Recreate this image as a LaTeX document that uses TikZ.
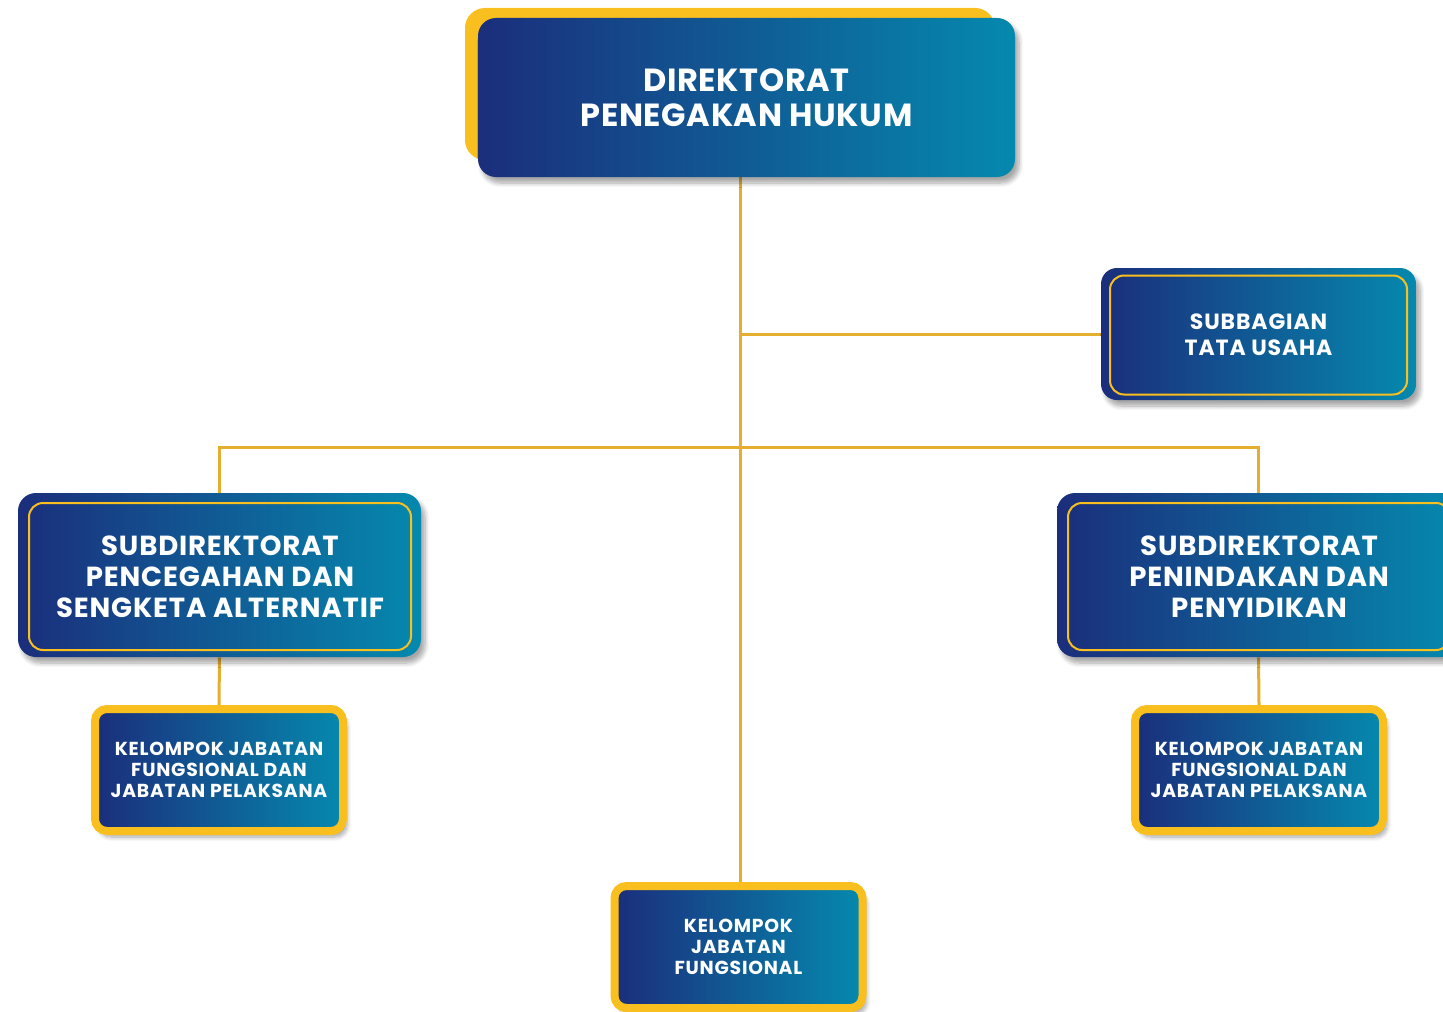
\documentclass[tikz,border=0pt]{standalone}
\usepackage{fontspec}
\setmainfont{Poppins}
\usetikzlibrary{shadows.blur,backgrounds}
\definecolor{navy}{HTML}{1B2E7C}
\definecolor{midblue}{HTML}{05528E}
\definecolor{myteal}{HTML}{0589AE}
\definecolor{gold}{HTML}{F9BF1E}
\definecolor{linegold}{HTML}{E6AE2E}
\begin{document}
\begin{tikzpicture}[x=0.5pt,y=-0.5pt,
  grad/.style={left color=navy, middle color=midblue, right color=myteal, inner sep=0pt},
  shad/.style={blur shadow={shadow xshift=2pt, shadow yshift=-3pt, shadow blur steps=8, shadow opacity=35}},
  bigbox/.style={grad, shad, rounded corners=9pt},
  frame/.style={draw=gold, line width=1pt, rounded corners=7pt, inner sep=0pt, text=white, align=center},
  kelbox/.style={grad, shad, draw=gold, line width=4pt, rounded corners=6pt, text=white, align=center,
     minimum width=124pt, minimum height=61pt, font=\bfseries\addfontfeatures{LetterSpace=4}\fontsize{9.4}{10.6}\selectfont},
  conn/.style={draw=linegold, line width=1.5pt}]
\useasboundingbox (0,0) rectangle (1443,1011);
\clip (0,0) rectangle (1443,1011);
% top
\node[fill=gold, rounded corners=10pt, minimum width=265pt, minimum height=76pt, inner sep=0pt] (topback) at (730,84) {};
\node[bigbox, minimum width=268.5pt, minimum height=79.5pt, text=white, align=center,
  font=\bfseries\addfontfeatures{LetterSpace=2}\fontsize{16}{17.5}\selectfont] (top) at (746.5,97.5) {DIREKTORAT\\PENEGAKAN HUKUM};
% subbagian
\node[bigbox, rounded corners=8pt, minimum width=157.5pt, minimum height=66pt] (sb) at (1258.5,334) {};
\node[frame, minimum width=148.5pt, minimum height=59.5pt, font=\bfseries\addfontfeatures{LetterSpace=4}\fontsize{11}{12.8}\selectfont] (sbin) at (1258.5,335) {SUBBAGIAN\\TATA USAHA};
% subdirektorat left
\node[bigbox, minimum width=201.5pt, minimum height=82pt] (sdl) at (219.5,575) {};
\node[frame, minimum width=191pt, minimum height=73.5pt, font=\bfseries\addfontfeatures{LetterSpace=3}\fontsize{13.8}{15.5}\selectfont] (sdlin) at (220,576.5) {SUBDIREKTORAT\\PENCEGAHAN DAN\\SENGKETA ALTERNATIF};
% subdirektorat right
\node[bigbox, minimum width=201.5pt, minimum height=82pt] (sdr) at (1258.5,575) {};
\node[frame, minimum width=191pt, minimum height=73.5pt, font=\bfseries\addfontfeatures{LetterSpace=3}\fontsize{13.8}{15.5}\selectfont] (sdrin) at (1259,576.5) {SUBDIREKTORAT\\PENINDAKAN DAN\\PENYIDIKAN};
% kelompok boxes
\node[kelbox] (kl) at (219,770) {KELOMPOK JABATAN\\FUNGSIONAL DAN\\JABATAN PELAKSANA};
\node[kelbox] (kr) at (1259,770) {KELOMPOK JABATAN\\FUNGSIONAL DAN\\JABATAN PELAKSANA};
\node[kelbox] (kb) at (738.5,947) {KELOMPOK\\JABATAN\\FUNGSIONAL};
% connectors
\coordinate (hub) at (740,447);
\coordinate (tu) at (740,334);
\begin{scope}[on background layer]
\draw[conn] (top.south -| hub) -- (kb.north -| hub);
\draw[conn] (tu) -- (sb.west);
\draw[conn] (sdl.north) |- (hub) -| (sdr.north);
\draw[conn] (sdl.south) -- (kl.north);
\draw[conn] (sdr.south) -- (kr.north);
\end{scope}
\end{tikzpicture}
\end{document}
